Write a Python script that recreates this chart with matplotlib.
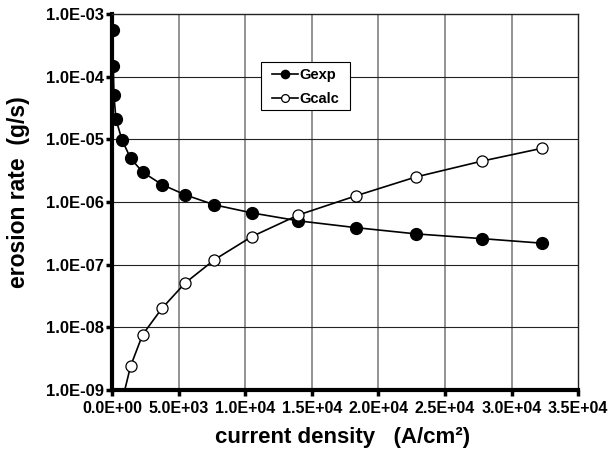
import matplotlib
matplotlib.use("Agg")
import matplotlib.pyplot as plt
from matplotlib.patches import Rectangle
from matplotlib.ticker import FixedLocator, NullLocator

plt.rcParams['font.family'] = ['Liberation Sans', 'DejaVu Sans']

# Data
x_exp = [50, 100, 150, 300, 750, 1400, 2300, 3750, 5500, 7700, 10500, 14000, 18300, 22800, 27800, 32300]
g_exp = [5.6e-4, 1.5e-4, 5.1e-5, 2.1e-5, 9.8e-6, 5.0e-6, 3.0e-6, 1.9e-6, 1.3e-6, 9.0e-7, 6.7e-7,
         5.0e-7, 3.9e-7, 3.1e-7, 2.6e-7, 2.2e-7]
x_calc = [750, 1400, 2300, 3750, 5500, 7700, 10500, 14000, 18300, 22800, 27800, 32300]
g_calc = [6.5e-10, 2.4e-9, 7.6e-9, 2.0e-8, 5.1e-8, 1.2e-7, 2.8e-7, 6.2e-7, 1.25e-6, 2.5e-6, 4.5e-6, 7.2e-6]

xticks = [0, 5000, 10000, 15000, 20000, 25000, 30000, 35000]
xtick_labels = ["0.0E+00", "5.0E+03", "1.0E+04", "1.5E+04", "2.0E+04", "2.5E+04", "3.0E+04", "3.5E+04"]
yticks = [1e-9, 1e-8, 1e-7, 1e-6, 1e-5, 1e-4, 1e-3]
ytick_labels = ["1.0E-09", "1.0E-08", "1.0E-07", "1.0E-06", "1.0E-05", "1.0E-04", "1.0E-03"]

fig = plt.figure(figsize=(6.15, 4.51), dpi=100)
ax = fig.add_axes([0.182, 0.1353, 0.758, 0.8337])
ax.set_yscale('log')
ax.set_xlim(0, 35000)
ax.set_ylim(1e-9, 1e-3)

ax.xaxis.set_major_locator(FixedLocator(xticks))
ax.set_xticklabels(xtick_labels)
ax.yaxis.set_major_locator(FixedLocator(yticks))
ax.yaxis.set_minor_locator(NullLocator())
ax.set_yticklabels(ytick_labels)

for xv in xticks[1:-1]:
    ax.axvline(xv, color='#808080', lw=1.2, zorder=1)
for yv in yticks[1:-1]:
    ax.axhline(yv, color='#222222', lw=0.8, zorder=1)

ax.plot(x_exp, g_exp, '-o', color='black', lw=1.2, ms=8.5, mfc='black', mec='black', zorder=3, label='Gexp')
ax.plot(x_calc, g_calc, '-o', color='black', lw=1.2, ms=8, mfc='white', mec='black', mew=0.9, zorder=4, label='Gcalc')

for s in ['left', 'bottom']:
    ax.spines[s].set_linewidth(3)
    ax.spines[s].set_color('black')
for s in ['top', 'right']:
    ax.spines[s].set_linewidth(1.0)
    ax.spines[s].set_color('#222222')

ax.tick_params(axis='both', direction='out', length=4, width=2.5, pad=2)
ax.tick_params(axis='y', labelsize=12)
ax.tick_params(axis='x', labelsize=11.5, pad=4)
for lab in ax.get_xticklabels() + ax.get_yticklabels():
    lab.set_fontweight('bold')

fig.text(343 / 615, 1 - 437 / 451, 'current density   (A/cm\u00b2)', fontsize=16, fontweight='bold',
         ha='center', va='center')
fig.text(19 / 615, 1 - 192 / 451, 'erosion rate  (g/s)', fontsize=16.5, fontweight='bold',
         ha='center', va='center', rotation=90)

# legend box drawn separately, legend content placed inside
box = Rectangle((261 / 615, 1 - 110 / 451), 89 / 615, 48 / 451, transform=fig.transFigure,
                facecolor='white', edgecolor='black', lw=0.8, zorder=6)
ax.add_patch(box)
leg = ax.legend(loc='upper left', bbox_to_anchor=(0.3433, 0.857), borderaxespad=0, frameon=False,
                prop={'weight': 'bold', 'size': 10.5},
                handlelength=1.8, markerscale=0.7, borderpad=0, labelspacing=0.72, handletextpad=0.1)
leg.set_zorder(7)

fig.savefig('out.png', dpi=100)
